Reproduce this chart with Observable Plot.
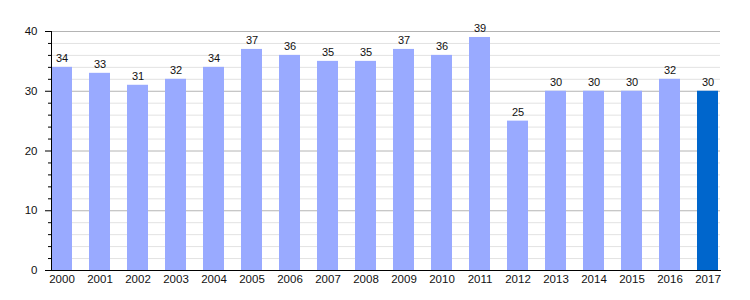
<!DOCTYPE html>
<html>
<head>
<meta charset="utf-8">
<script src="https://cdn.jsdelivr.net/npm/d3@7"></script>
<script src="https://cdn.jsdelivr.net/npm/@observablehq/plot@0.6"></script>
<style>
  body { margin: 0; background: #fff; }
  svg { font-family: "Liberation Sans", Arial, sans-serif; }
</style>
</head>
<body>
<div id="chart"></div>
<script>
const years = ["2000","2001","2002","2003","2004","2005","2006","2007","2008","2009","2010","2011","2012","2013","2014","2015","2016","2017"];
const values = [34,33,31,32,34,37,36,35,35,37,36,39,25,30,30,30,32,30];
const highlightYear = "2017";
const majorTicks = [0,10,20,30,40];
const minorTicks = [2,4,6,8,12,14,16,18,22,24,26,28,32,34,36,38];

const data = years.map((y, i) => ({year: y, value: values[i]}));

const chart = Plot.plot({
  width: 750,
  height: 300,
  marginLeft: 51,
  marginRight: 30,
  marginTop: 31,
  marginBottom: 30,
  style: {fontFamily: "Liberation Sans, Arial, sans-serif", fontSize: "11px", background: "#fff", color: "#111"},
  x: {domain: years, paddingInner: 0.45, paddingOuter: 0, align: 0, label: null},
  y: {domain: [0, 40], label: null},
  marks: [
    Plot.ruleY(minorTicks, {stroke: "#e2e2e2", strokeWidth: 1}),
    Plot.ruleY(majorTicks.filter(d => d > 0), {stroke: "#b4b4b4", strokeWidth: 1}),
    Plot.barY(data, {x: "year", y: "value", fill: d => d.year === highlightYear ? "#0066cc" : "#99aaff"}),
    Plot.text(data, {x: "year", y: "value", text: d => String(d.value), lineAnchor: "bottom", dy: -5, fontSize: 11, fill: "#111"}),
    Plot.axisY(majorTicks, {tickSize: 6, tickPadding: 8, fontSize: 11.5, stroke: "#000", fill: "#111"}),
    Plot.axisY(minorTicks, {tickSize: 3, text: null, stroke: "#000"}),
    Plot.axisX({tickSize: 0, tickPadding: 4, fontSize: 11.5, fill: "#111"}),
    Plot.frame({anchor: "left", stroke: "#000"}),
    Plot.frame({anchor: "bottom", stroke: "#000"})
  ]
});
document.getElementById("chart").appendChild(chart);
</script>
</body>
</html>
